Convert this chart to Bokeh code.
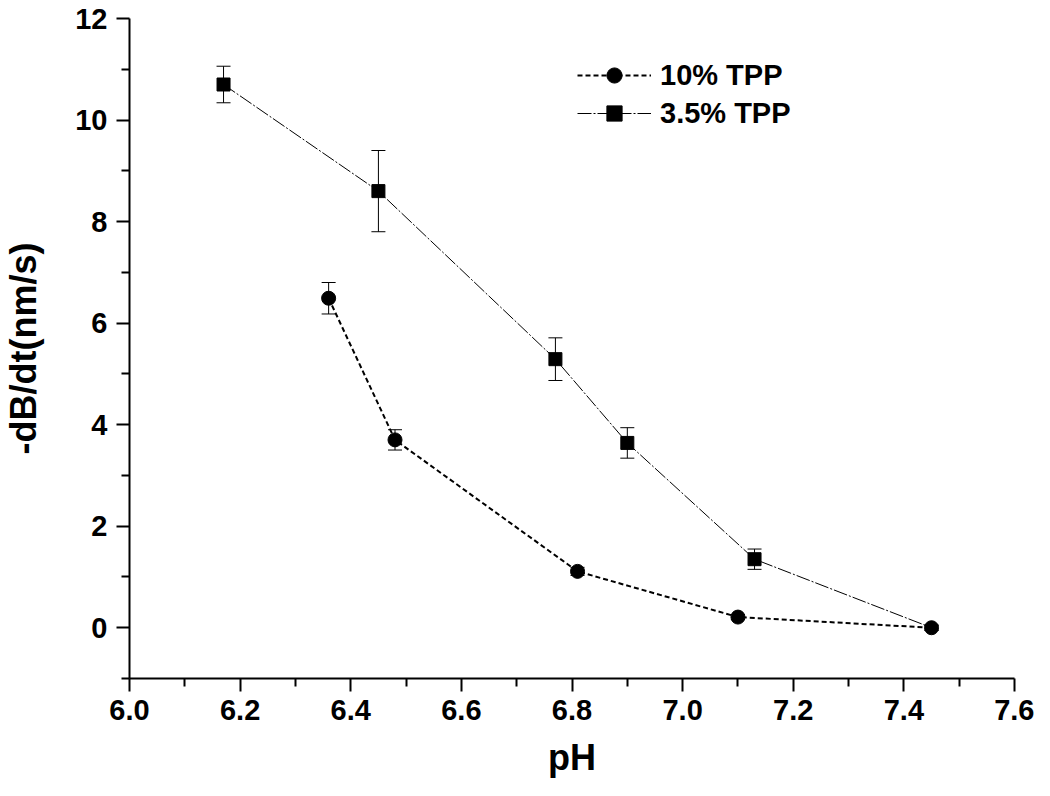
from bokeh.plotting import figure
from bokeh.models import (Range1d, FixedTicker, PrintfTickFormatter, Whisker, TeeHead,
                          ColumnDataSource, Legend, LegendItem, CDSView, IndexFilter)
from bokeh.embed import file_html
from bokeh.resources import INLINE

# Data
ph_10 = [6.36, 6.48, 6.81, 7.10, 7.45]
rate_10 = [6.49, 3.70, 1.11, 0.21, 0.0]
err_10 = [0.31, 0.20, 0.08, 0.05, 0.05]

ph_35 = [6.17, 6.45, 6.77, 6.90, 7.13, 7.45]
rate_35 = [10.70, 8.60, 5.29, 3.64, 1.35, 0.0]
err_35 = [0.36, 0.80, 0.42, 0.30, 0.20, 0.05]

labels = ["10% TPP", "3.5% TPP"]
x_label = "pH"
y_label = "-dB/dt(nm/s)"

x_major = [6.0, 6.2, 6.4, 6.6, 6.8, 7.0, 7.2, 7.4, 7.6]
x_minor = [6.1, 6.3, 6.5, 6.7, 6.9, 7.1, 7.3, 7.5]
y_major = [0, 2, 4, 6, 8, 10, 12]
y_minor = [-1, 1, 3, 5, 7, 9, 11]

FONT = "Liberation Sans"

src10 = ColumnDataSource(dict(x=ph_10, y=rate_10,
                              lo=[v - e for v, e in zip(rate_10, err_10)],
                              hi=[v + e for v, e in zip(rate_10, err_10)]))
src35 = ColumnDataSource(dict(x=ph_35, y=rate_35,
                              lo=[v - e for v, e in zip(rate_35, err_35)],
                              hi=[v + e for v, e in zip(rate_35, err_35)]))

p = figure(width=1034, height=780, output_backend="svg", toolbar_location=None,
           x_range=Range1d(6.0, 7.6), y_range=Range1d(-1, 12),
           min_border_left=124, min_border_top=18, min_border_right=20, min_border_bottom=100)
p.outline_line_color = None
p.xgrid.visible = False
p.ygrid.visible = False

# error bars
for src in (src35, src10):
    w = Whisker(source=src, base="x", lower="lo", upper="hi", dimension="height",
                line_color="black", line_width=1,
                upper_head=TeeHead(size=14, line_color="black", line_width=1),
                lower_head=TeeHead(size=14, line_color="black", line_width=1))
    p.add_layout(w)

# the last 3.5% point coincides with the 10% point and is hidden under its circle
view35 = CDSView(filter=IndexFilter(list(range(len(ph_35) - 1))))

l35 = p.line("x", "y", source=src35, line_color="black", line_width=1, line_dash="14 2 2 2")
m35 = p.scatter("x", "y", source=src35, view=view35, marker="square", size=13,
                fill_color="black", line_color="black")
l10 = p.line("x", "y", source=src10, line_color="black", line_width=2, line_dash="5 3")
m10 = p.scatter("x", "y", source=src10, marker="circle", size=14, fill_color="black", line_color="black")

legend = Legend(items=[LegendItem(label=labels[0], renderers=[l10, m10]),
                       LegendItem(label=labels[1], renderers=[l35, m35])],
                location=(448, 546), glyph_width=74, glyph_height=38, label_height=38,
                spacing=0, padding=0, margin=0, label_standoff=9,
                border_line_color=None, background_fill_alpha=0,
                label_text_font=FONT, label_text_font_style="bold", label_text_font_size="29px",
                label_text_color="black")
p.add_layout(legend, "center")

p.xaxis.ticker = FixedTicker(ticks=x_major, minor_ticks=x_minor)
p.yaxis.ticker = FixedTicker(ticks=y_major, minor_ticks=y_minor)
p.xaxis.formatter = PrintfTickFormatter(format="%.1f")

for ax in (p.xaxis[0], p.yaxis[0]):
    ax.axis_line_color = "black"
    ax.axis_line_width = 2
    ax.major_tick_line_color = "black"
    ax.major_tick_line_width = 2
    ax.minor_tick_line_color = "black"
    ax.minor_tick_line_width = 2
    ax.major_tick_out = 13
    ax.major_tick_in = 0
    ax.minor_tick_out = 8
    ax.minor_tick_in = 0
    ax.major_label_text_font = FONT
    ax.major_label_text_font_style = "bold"
    ax.major_label_text_font_size = "29px"
    ax.major_label_text_color = "black"
    ax.axis_label_text_font = FONT
    ax.axis_label_text_font_style = "bold"
    ax.axis_label_text_font_size = "36px"
    ax.axis_label_text_color = "black"

p.xaxis.axis_label = x_label
p.yaxis.axis_label = y_label
p.xaxis.major_label_standoff = 8
p.yaxis.major_label_standoff = 9
p.xaxis.axis_label_standoff = 14
p.yaxis.axis_label_standoff = 28

open("out.html", "w").write(file_html(p, INLINE))
